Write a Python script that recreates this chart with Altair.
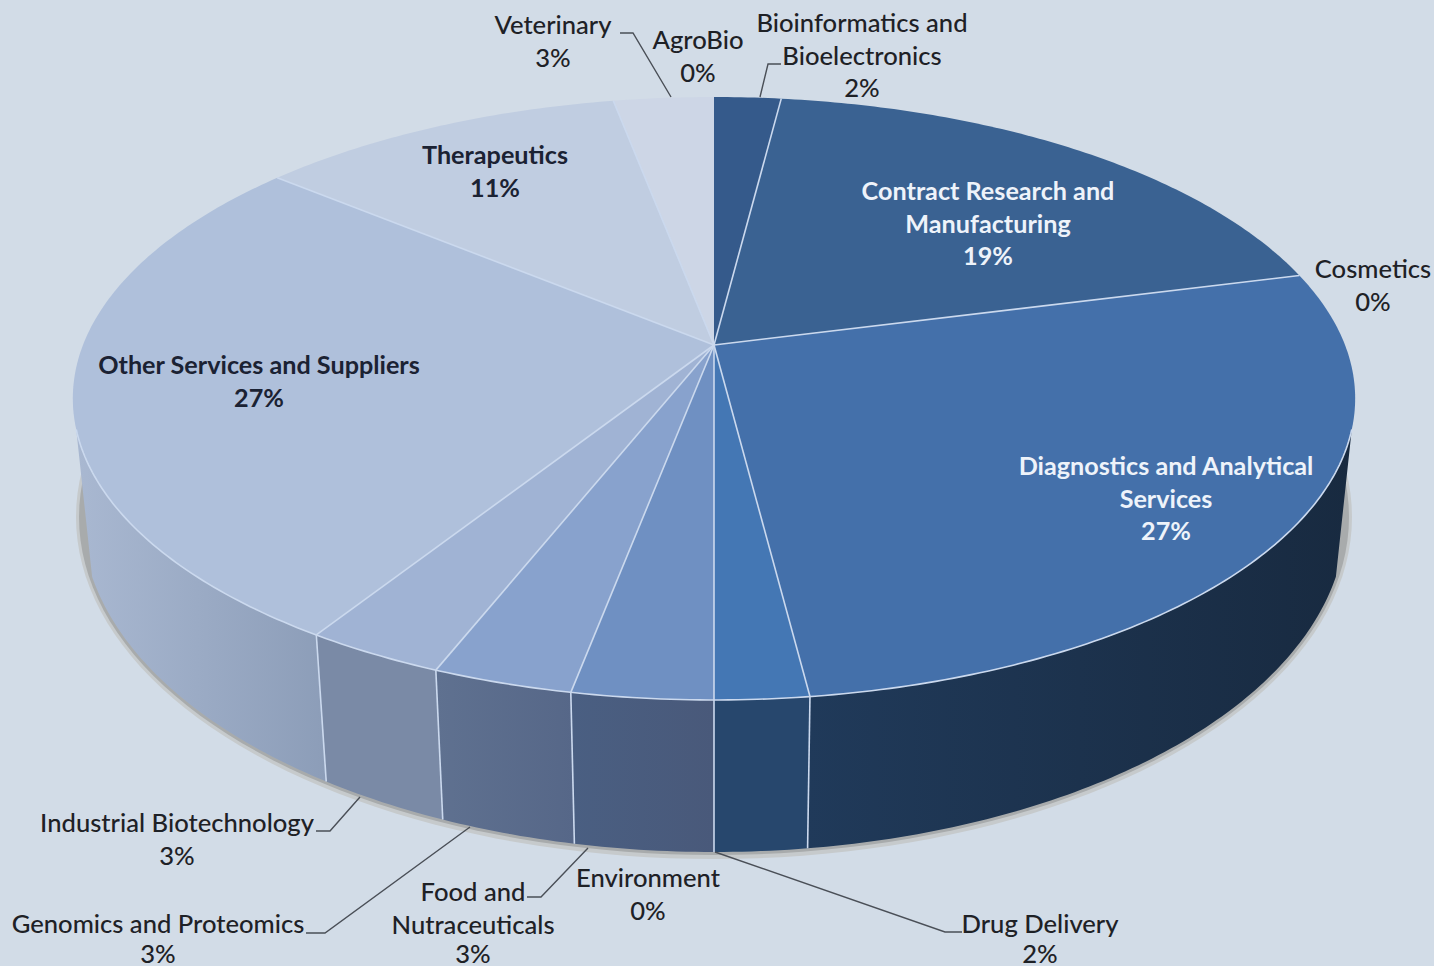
import math
import altair as alt
import pandas as pd

# Share of organisations per sector, in percent, clockwise from twelve o'clock
sectors = ["Bioinformatics and Bioelectronics", "Contract Research and Manufacturing", "Cosmetics",
           "Diagnostics and Analytical Services", "Drug Delivery", "Environment", "Food and Nutraceuticals",
           "Genomics and Proteomics", "Industrial Biotechnology", "Other Services and Suppliers",
           "Therapeutics", "Veterinary", "AgroBio"]
shares = [2, 19, 0, 27, 2, 0, 3, 3, 3, 27, 11, 3, 0]
top_colors = ["#355a8b", "#3a6292", "#3a6292", "#4470aa", "#4477b4", "#4477b4", "#6f90c2",
              "#88a2cd", "#a0b3d4", "#afc0db", "#c0cde1", "#cdd6e6", "#cdd6e6"]
side_colors = [("#1c3250", "#1c3250"), ("#1c3250", "#1c3250"), ("#1c3250", "#1c3250"),
               ("#203a5a", "#182a40"), ("#27476d", "#27476d"), ("#27476d", "#27476d"),
               ("#4a5f82", "#49597a"), ("#5f7190", "#566788"), ("#7a8aa6", "#7a8aa6"),
               ("#a9b8d1", "#8c9db8"), ("#a9b8d1", "#a9b8d1"), ("#a9b8d1", "#a9b8d1"), ("#a9b8d1", "#a9b8d1")]

# Label lines per sector; the percentage line is added from the share
label_lines = [["Bioinformatics and", "Bioelectronics"], ["Contract Research and", "Manufacturing"], ["Cosmetics"],
               ["Diagnostics and Analytical", "Services"], ["Drug Delivery"], ["Environment"],
               ["Food and", "Nutraceuticals"], ["Genomics and Proteomics"], ["Industrial Biotechnology"],
               ["Other Services and Suppliers"], ["Therapeutics"], ["Veterinary"], ["AgroBio"]]
label_x = [862, 988, 1373, 1166, 1040, 648, 473, 158, 177, 259, 495, 553, 698]
label_y = [24, 192, 270, 467, 925, 879, 893, 925, 824, 366, 156, 26, 41]
label_style = ["plain", "white", "plain", "white", "plain", "plain", "plain", "plain", "plain",
               "dark", "dark", "plain", "plain"]
line_step = 32.5
lowest_text_y = 954.5

# Leader lines from outer labels to their slices
leaders = {
    "Veterinary": [(620, 33), (633, 33), (671, 97)],
    "Bioinformatics": [(781, 64), (768, 64), (760, 97)],
    "Industrial": [(316, 831), (330, 831), (360, 797)],
    "Genomics": [(306, 933), (325, 933), (470, 827)],
    "Food": [(527, 897), (541, 897), (588, 848)],
    "Drug": [(715, 852), (945, 932), (962, 932)],
}

W, H = 1434, 966
BG = "#d2dce7"
CX, APEX_Y = 714, 345       # where the slices meet on the tilted disc
TILT, RX_K, RY_K = 0.1774, 631, 292
LOW_CY, LOW_RX, LOW_RY = 517, 632, 335   # lower edge of the drum
SIDE_FROM, SIDE_TO = 0.2944, 0.7056      # part of the rim facing the viewer

X = alt.X("x:Q", scale=alt.Scale(domain=[0, W], range=[0, W]), axis=None)
Y = alt.Y("y:Q", scale=alt.Scale(domain=[0, H], range=[0, H]), axis=None)


def rim(s):
    a = 2 * math.pi * s
    d = 1 + TILT * math.cos(a)
    return CX + RX_K * math.sin(a) / d, APEX_Y - RY_K * math.cos(a) / d


def low(s):
    x, _ = rim(s)
    g = 0.989 * (x - CX) / 641
    return CX + LOW_RX * g, LOW_CY + LOW_RY * math.sqrt(max(0, 1 - g * g))


def span(a, b):
    n = max(2, int((b - a) * 500))
    return [a + (b - a) * i / n for i in range(n + 1)]


def path(points):
    return pd.DataFrame({"x": [p[0] for p in points], "y": [p[1] for p in points],
                         "i": list(range(len(points)))})


def poly(points, fill):
    return alt.Chart(path(points)).mark_line(filled=True, fill=fill, strokeWidth=0, stroke="transparent").encode(
        x=X, y=Y, order="i:Q")


def stroke(points, color, width):
    return alt.Chart(path(points)).mark_line(color=color, strokeWidth=width).encode(x=X, y=Y, order="i:Q")


def ellipse(rx, ry, cy):
    return [(CX + rx * math.sin(i / 90 * math.pi), cy + ry * math.cos(i / 90 * math.pi)) for i in range(181)]


layers = []

# Cast shadow below the drum
layers.append(poly(ellipse(638, 342, 517), "#c6cacc"))
layers.append(poly(ellipse(635, 338, 517), "#a8abac"))

# Side walls and top slices
bounds = []
c = 0
for v in shares:
    bounds.append((c / 100, (c + v) / 100))
    c += v

for (a, b), (left, right) in zip(bounds, side_colors):
    lo, hi = max(a, SIDE_FROM), min(b, SIDE_TO)
    if hi <= lo:
        continue
    ss = span(lo, hi)
    pts = [rim(s) for s in ss] + [low(s) for s in reversed(ss)]
    layers.append(poly(pts, alt.Gradient(gradient="linear", x1=0, x2=1, y1=0, y2=0,
                                         stops=[alt.GradientStop(color=left, offset=0),
                                                alt.GradientStop(color=right, offset=1)])))

edge = "#cbd9ee"
for (a, b), v in zip(bounds, shares):
    if v > 0 and SIDE_FROM < b < SIDE_TO:
        layers.append(stroke([rim(b), low(b)], edge, 1.6))

for (a, b), v, col in zip(bounds, shares, top_colors):
    if v == 0:
        continue
    pts = [(CX, APEX_Y)] + [rim(s) for s in span(a, b)] + [(CX, APEX_Y)]
    layers.append(poly(pts, col))
for (a, b), v in zip(bounds, shares):
    if v > 0 and b < 1:
        layers.append(stroke([(CX, APEX_Y), rim(b)], edge, 1.6))
layers.append(stroke([rim(s) for s in span(SIDE_FROM, SIDE_TO)], edge, 1.6))

# Leader lines
for pts in leaders.values():
    layers.append(stroke(pts, "#4a4f57", 1.4))

# Labels
text_rows = []
for lines, v, lx, ly, st in zip(label_lines, shares, label_x, label_y, label_style):
    for j, t in enumerate(lines + [f"{v}%"]):
        text_rows.append({"x": lx, "y": min(ly + j * line_step, lowest_text_y), "t": t, "st": st})
text_df = pd.DataFrame(text_rows)
styles = {"plain": ("#1e2126", 500, 25.6), "dark": ("#1b2233", "bold", 25.2), "white": ("#eef3fa", "bold", 25.2)}
for st, (col, weight, size) in styles.items():
    layers.append(alt.Chart(text_df[text_df.st == st]).mark_text(
        font="Lato", fontSize=size, fontWeight=weight, color=col, align="center", baseline="middle"
    ).encode(x=X, y=Y, text="t:N"))

chart = alt.layer(*layers).properties(
    width=W, height=H, background=BG, padding=0, autosize=alt.AutoSizeParams(type="none")
).configure_view(stroke=None)

chart.save("out.html", embed_options={"renderer": "svg", "actions": False})
